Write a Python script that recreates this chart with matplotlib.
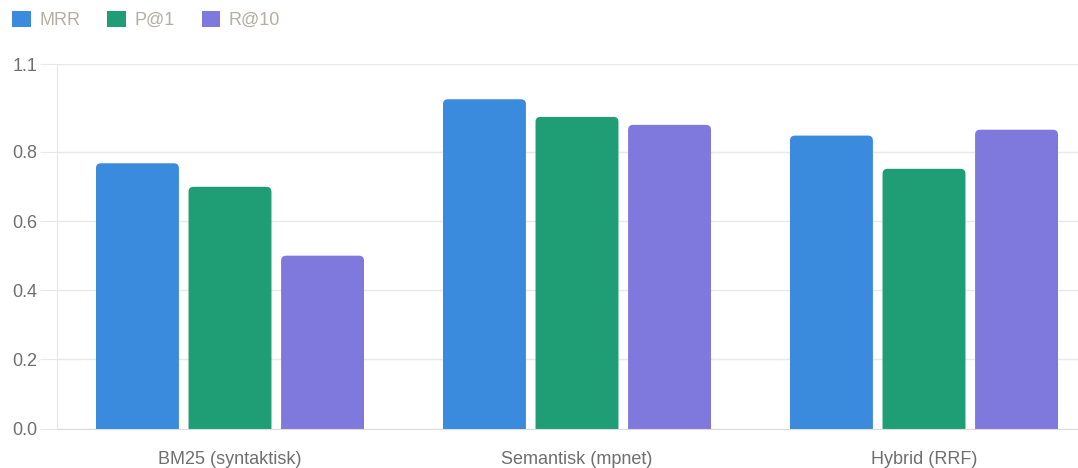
import numpy as np
import matplotlib
matplotlib.use("Agg")
import matplotlib.pyplot as plt
from matplotlib.patches import Patch, FancyBboxPatch

plt.rcParams["font.family"] = ["Liberation Sans", "DejaVu Sans"]

CATEGORIES = ["BM25 (syntaktisk)", "Semantisk (mpnet)", "Hybrid (RRF)"]
SERIES = ["MRR", "P@1", "R@10"]
MRR = [0.767, 0.952, 0.847]
P_AT_1 = [0.699, 0.901, 0.751]
R_AT_10 = [0.500, 0.878, 0.864]
Y_TICKS = [0.0, 0.2, 0.4, 0.6, 0.8, 1.053]
Y_TICK_LABELS = ["0.0", "0.2", "0.4", "0.6", "0.8", "1.1"]

COLORS = ["#3a8bdd", "#1f9e75", "#8079dd"]
GRID = "#e8e8e8"
TEXT = "#6f6f6f"
LEGEND_TEXT = "#b3afa4"

W, H = 1078, 468
fig = plt.figure(figsize=(W / 100, H / 100), dpi=100)

# plot area runs past the right edge of the picture (cropped screenshot)
left_px, right_px = 56.5, 1097.5
top_px, bottom_px = 64.3, 428.7
ax = fig.add_axes([left_px / W, 1 - bottom_px / H,
                   (right_px - left_px) / W, (bottom_px - top_px) / H])

ax.set_xlim(-0.5, len(CATEGORIES) - 0.5)
ax.set_ylim(0, Y_TICKS[-1])

x = np.arange(len(CATEGORIES))
slot = 0.2667
bar_w = 0.239
# x-units per pixel vs y-units per pixel, so corners come out round
xpp = (len(CATEGORIES)) / (right_px - left_px)
ypp = Y_TICKS[-1] / (bottom_px - top_px)
rad = 5 * xpp
for i, (vals, col) in enumerate(zip([MRR, P_AT_1, R_AT_10], COLORS)):
    bars = ax.bar(x + (i - 1) * slot, vals, width=bar_w, color=col,
                  edgecolor="none", zorder=3)
    for b in bars:
        b.set_visible(False)
        bx, bw, bh = b.get_x(), b.get_width(), b.get_height()
        extra = 10 * ypp  # hide the bottom rounding below the axis
        p = FancyBboxPatch((bx, -extra), bw, bh + extra,
                           boxstyle=f"round,pad=0,rounding_size={rad}",
                           mutation_aspect=ypp / xpp,
                           facecolor=col, edgecolor="none", zorder=3)
        ax.add_patch(p)

ax.set_yticks(Y_TICKS)
ax.set_yticklabels(Y_TICK_LABELS)
ax.set_xticks(x)
ax.set_xticklabels(CATEGORIES)

ax.grid(axis="y", color=GRID, linewidth=1, zorder=0)
for s in ["top", "right"]:
    ax.spines[s].set_visible(False)
ax.spines["left"].set_color(GRID)
ax.spines["bottom"].set_color("#dcdcdc")
ax.spines["bottom"].set_zorder(4)
ax.tick_params(axis="y", length=12, color=GRID, labelsize=13,
               labelcolor=TEXT, pad=2)
ax.tick_params(axis="x", length=0, labelsize=13, labelcolor=TEXT, pad=16)

handles = [Patch(facecolor=c, edgecolor="none") for c in COLORS]
leg = fig.legend(handles, SERIES, loc="upper left", bbox_to_anchor=(-0.004, 1.012),
                 ncol=3, frameon=False, handlelength=1.05, handleheight=1.05,
                 handletextpad=0.45, columnspacing=1.5, fontsize=13)
for t in leg.get_texts():
    t.set_color(LEGEND_TEXT)

fig.savefig("out.png", dpi=100)
